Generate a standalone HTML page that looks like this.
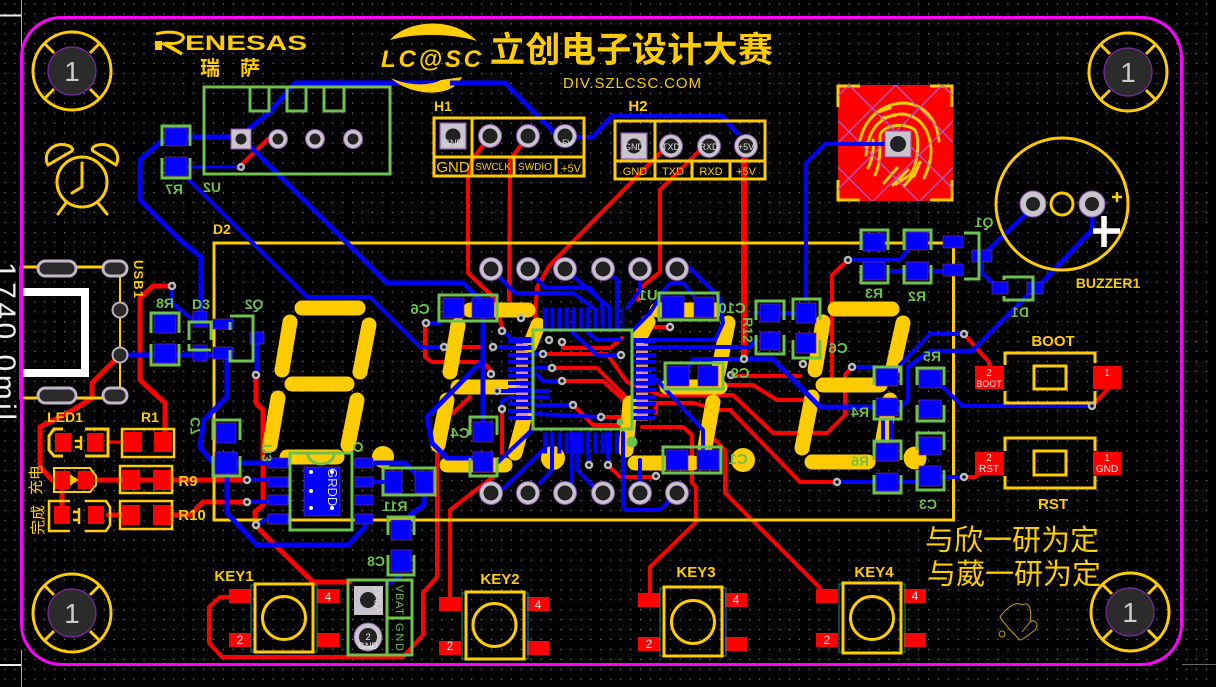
<!DOCTYPE html>
<html><head><meta charset="utf-8"><style>
html,body{margin:0;padding:0;background:#000;width:1216px;height:687px;overflow:hidden}
svg{display:block}
text{font-family:"Liberation Sans","Noto Sans CJK SC",sans-serif}
.r{fill:none;stroke:#f00;stroke-width:4;stroke-linejoin:round;stroke-linecap:round}
.b{fill:none;stroke:#00f;stroke-width:4;stroke-linejoin:round;stroke-linecap:round}
.s{fill:none;stroke:#fc0;stroke-width:15;stroke-linecap:round}
.y{fill:none;stroke:#fc0;stroke-width:3}
.g{fill:none;stroke:#6cc24a;stroke-width:3}
.bp{fill:#00f;stroke:#7a2a9a;stroke-width:.7}
.rp{fill:#f00}
.yt{fill:#fc0;font-weight:bold;font-size:15px;text-anchor:middle}
.gt{fill:#6cc24a;font-weight:bold;font-size:14px;text-anchor:middle}
.wt{fill:#eee;font-size:10px;text-anchor:middle}
.v{fill:#111;stroke:#bbb;stroke-width:2.5}
.t{stroke:#0e8c8c;stroke-width:1;fill:none}
</style></head><body>
<svg width="1216" height="687" viewBox="0 0 1216 687" xmlns="http://www.w3.org/2000/svg">
<defs>
<pattern id="dots" x="0" y="0" width="9.93" height="9.93" patternUnits="userSpaceOnUse"><circle cx="5" cy="4" r=".65" fill="#8a8a8a"/></pattern>
<pattern id="hatch" x="838" y="85" width="33" height="33" patternUnits="userSpaceOnUse" patternTransform="rotate(45 895 143)"><path d="M0 16.5H33M16.5 0V33" stroke="#b25fd0" stroke-width="1.2" fill="none"/></pattern>
<g id="hole"><circle r="39" fill="none" stroke="#fc0" stroke-width="3"/><path d="M-28-28L-18-18M28-28L18-18M-28 28L-18 18M28 28L18 18" stroke="#fc0" stroke-width="3"/><circle r="24" fill="#2b2b2b" stroke="#7d2aa8" stroke-width="1.2"/></g>
<g id="pin"><circle r="11.5" fill="#c9c4cc" stroke="#8e55b5" stroke-width="1"/><circle r="7.5" fill="#222"/></g>
<g id="pinS"><circle r="9.5" fill="#c9c4cc" stroke="#8e55b5" stroke-width="1"/><circle r="5.5" fill="#222"/></g>
<g id="sq"><rect x="-13" y="-13" width="26" height="26" fill="#c9c4cc" stroke="#8e55b5" stroke-width="1.2"/><circle r="7.5" fill="#222"/></g>
</defs>
<rect width="1216" height="687" fill="#000"/>
<rect width="1216" height="687" fill="url(#dots)"/>
<!-- ruler -->
<path d="M21.5 0V50M21.5 650V687" stroke="#aaa" stroke-width="1"/>
<path d="M0 15.5H21M0 665H21" stroke="#eee" stroke-width="2"/>
<path d="M1182 664.5H1216" stroke="#666" stroke-width="1"/>
<text x="0" y="0" transform="translate(-5,262) rotate(90)" fill="#eee" font-size="30" textLength="158" lengthAdjust="spacing" style="font-family:'Liberation Sans',sans-serif">1740.0mil</text>

<!-- RED -->
<path class="r" d="M490 136L472 160L468 176V273L493 297L503 330"/>
<path class="r" d="M528 136L510 160L509 300"/>
<path class="r" d="M663 150L550 265L537 287L535 317"/>
<path class="r" d="M700 150L660 190V272L638 290V300"/>
<path class="r" style="stroke-width:6" d="M744 146V359"/>
<path class="r" d="M848 260L832 275V377"/>
<path class="r" d="M241 139L250 148M268 139L238 168"/>
<path class="r" style="stroke-width:5" d="M172 286H153L140 298V380L165 403V437"/>
<path class="r" style="stroke-width:5" d="M120 355L92 383V398L73 410L40 427V467L52 480H245"/>
<path class="r" style="stroke-width:3" d="M110 442H125"/>
<path class="r" style="stroke-width:5" d="M62 480V515M108 515H125M170 515H190L203 502H247"/>
<path class="r" style="stroke-width:5" d="M256 375V403L263 410V505L255 512V525L277 547L313 582H350"/>
<path class="r" d="M437 453V577L423 593V635L403 657H222L209 643V607L220 597H232"/>
<path class="r" d="M493 477L450 510V597"/>
<path class="r" d="M425 327V357L432 362H483L493 373"/>
<path class="r" d="M444 347H480"/>
<path class="r" d="M502 409V453"/>
<path class="r" d="M470 397L453 413"/>
<path class="r" d="M543 354H607L627 382L660 395H733L773 433H827L845 415V375L852 367"/>
<path class="r" d="M552 368H597L632 403H693L720 410H730L800 482H837"/>
<path class="r" d="M660 385H753L777 400H803"/>
<path class="r" d="M562 381H603L627 403"/>
<path class="r" d="M563 343V348H610L622 338"/>
<path class="r" d="M573 405L593 425H630M601 417H630"/>
<path class="r" d="M642 427H683L692 435V483L696 487V522L650 567V593"/>
<path class="r" d="M715 440L725 450V493L820 588"/>
<path class="r" d="M608 465L620 477H656"/>
<path class="r" d="M670 327H653"/>
<path class="r" d="M733 376H800"/>
<path class="r" d="M964 334L978 350L989 362V367"/>
<path class="r" d="M1092 406L1107 390"/>
<path class="r" d="M964 477H975L985 470"/>
<path class="r" d="M656 405V413"/>

<!-- YELLOW SEGMENTS -->
<g class="s">
<path d="M302 308H358M290 322L282 370M369 325L360 372M292 384H347M278 398L270 445M357 400L348 445M287 457H337"/>
<path d="M470 310H528M458 325L450 372M538 325L530 345M458 387H513M447 400L438 445M525 415L515 453M447 465H505"/>
<path d="M657 310H715M648 322L640 337M728 323L718 373M667 387H720M630 403L626 450M713 402L705 447M635 463H693"/>
<path d="M835 309H892M823 322L815 370M903 323L893 368M823 385H880M812 397L802 448M890 400L882 445M812 462H868"/>
</g>
<circle cx="553" cy="458" r="12" fill="#fc0"/><circle cx="743" cy="460" r="12" fill="#fc0"/><circle cx="915" cy="458" r="11.5" fill="#fc0"/><circle cx="383" cy="457" r="11" fill="#fc0"/>
<rect x="214" y="243" width="739.5" height="277" class="y"/>

<!-- Fingerprint -->
<rect x="838" y="85" width="115" height="116" fill="#f00"/>
<path d="M838 107V86H860M930 86H952V107M838 180V200H860M930 200H952V180" fill="none" stroke="#fc0" stroke-width="3"/>
<g fill="none" stroke="#fc0" stroke-width="3" stroke-linecap="round">
<path d="M860 140C866 115 885 103 905 103C925 105 937 120 939 141"/>
<path d="M866 155C868 125 885 114 903 114C920 116 930 130 931 150C931 160 928 170 924 178"/>
<path d="M878 112L890 108M882 118L896 115"/>
<path d="M875 175C880 165 880 150 880 135C883 125 905 122 915 130C920 140 918 165 910 175L896 184"/>
<path d="M868 168C872 160 874 150 873 140"/>
<path d="M884 183L897 168M893 185L908 170M904 186L916 172M914 176L920 162"/>
</g>
<rect x="838" y="85" width="115" height="116" fill="url(#hatch)"/>

<!-- BLUE -->
<path class="b" style="stroke-width:5" d="M241 139L250 128L270 112L295 83H505L555 133L565 136"/>
<path class="b" style="stroke-width:4.5" d="M578 137H593L612 116H722L737 133"/>
<path class="b" style="stroke-width:5" d="M176 137H241"/>
<path class="b" style="stroke-width:3" d="M176 167H241"/>
<path class="b" style="stroke-width:5" d="M163 140L140 160V200L180 240L201 257V318"/>
<path class="b" d="M187 178L307 297H370L420 347H443"/>
<path class="b" style="stroke-width:5" d="M252 148L387 283H463L483 303"/>
<path class="b" d="M172 286V303L193 320H201"/>
<path class="b" style="stroke-width:5" d="M120 355H220"/>
<path class="b" style="stroke-width:5" d="M227 353V397L204 420L200 447L213 463H268"/>
<path class="b" style="stroke-width:5" d="M257 338V375"/>
<path class="b" style="stroke-width:5" d="M227 467V513L257 545H348L365 527V518"/>
<path class="b" style="stroke-width:5" d="M355 463H405L417 475L424 482V505L410 515"/>
<path class="b" d="M363 482H393M247 480H267M247 502H267M256 525L267 519"/>
<path class="b" d="M401 575L387 585"/>
<path class="b" d="M885 144H825L806 163V300"/>
<path class="b" d="M848 260H900L910 247M888 271H904M930 271H945"/>
<path class="b" style="stroke-width:4.5" d="M982 256L1025 215"/>
<path class="b" style="stroke-width:5" d="M1092 217V230L1038 287"/>
<path class="b" d="M982 260V273L997 287"/>
<path class="b" style="stroke-width:4.5" d="M1033 290L972 351H930L908 367V400L900 408"/>
<path class="b" d="M964 334H930L900 365"/>
<path class="b" d="M943 387L962 406H1090"/>
<path class="b" d="M930 477H964M837 482H917M852 367H875"/>
<path class="b" style="stroke-width:5" d="M744 359H773L820 407H877"/>
<path class="b" d="M883 420V445M891 420V445"/>
<path class="b" style="stroke-width:5" d="M483 318V360L427 417L432 443L447 458H473M483 360V420"/>
<path class="b" d="M498 462L532 430M502 331L512 339H530M493 347H530M497 391H548M502 409V401L510 397H548"/>
<path class="b" d="M444 347H420"/>
<path class="b" d="M426 323H440"/>
<path class="b" d="M573 405H535M601 417L535 414M552 368H535M562 381H543L535 373M543 354H532M621 355H597L572 332M587 332L597 340H620"/>
<path class="b" d="M633 380H657L703 430V450M633 347H750L756 340M744 359H693L690 365"/>
<path class="b" d="M491 269L515 293H573L592 307M528 269L545 288H590L602 302V308M565 269L597 297L610 308M603 269L617 280V308M640 269V290L627 308"/>
<path class="b" d="M690 268L720 298L723 323L715 340H633"/>
<path class="b" d="M660 295L670 283H683L693 295M660 297L650 313L633 330"/>
<path class="b" d="M502 490L543 450M540 483L552 470V433M572 433V490M577 433V470L597 490M623 433V507L625 510H660L670 500M640 460V487M587 433L589 465M607 433L608 465"/>
<path class="b" d="M755 313H795"/>

<!-- QFN pins -->
<line x1="543" y1="318" x2="623" y2="318" stroke="#00f" stroke-width="21" stroke-dasharray="4 3.2"/>
<line x1="543" y1="443" x2="623" y2="443" stroke="#00f" stroke-width="21" stroke-dasharray="4 3.2"/>
<line x1="520" y1="339" x2="520" y2="421" stroke="#00f" stroke-width="24" stroke-dasharray="4 3"/>
<line x1="644" y1="339" x2="644" y2="421" stroke="#00f" stroke-width="24" stroke-dasharray="4 3"/>
<line x1="522" y1="343.5" x2="522" y2="421" stroke="#d890a0" stroke-width="12" stroke-dasharray="2.5 4.5"/>
<line x1="642" y1="343.5" x2="642" y2="421" stroke="#d890a0" stroke-width="12" stroke-dasharray="2.5 4.5"/>
<rect x="533" y="330" width="99" height="99" class="g"/>
<circle cx="620" cy="422" r="3.5" fill="#6cc24a"/><circle cx="632" cy="442" r="5.5" fill="#6cc24a"/>

<!-- Blue pads -->
<g class="bp">
<rect x="165" y="128" width="22" height="18"/><rect x="165" y="157" width="22" height="19"/>
<rect x="154" y="313" width="22" height="20"/><rect x="154" y="344" width="22" height="19"/>
<rect x="193" y="311" width="14" height="16"/><rect x="193" y="345" width="14" height="16"/>
<rect x="213" y="319" width="20" height="10"/><rect x="213" y="347" width="20" height="12"/><rect x="250" y="332" width="14" height="12"/>
<rect x="216" y="423" width="20" height="20"/><rect x="215" y="452" width="22" height="22"/>
<rect x="268" y="458" width="20" height="10"/><rect x="268" y="477" width="20" height="10"/><rect x="268" y="495" width="20" height="10"/><rect x="268" y="514" width="20" height="10"/>
<rect x="355" y="458" width="18" height="10"/><rect x="355" y="477" width="18" height="10"/><rect x="355" y="495" width="18" height="10"/><rect x="355" y="514" width="18" height="10"/>
<rect x="304" y="467" width="36" height="49"/>
<rect x="384" y="471" width="18" height="22"/><rect x="415" y="471" width="18" height="22"/>
<rect x="391" y="520" width="20" height="20"/><rect x="391" y="550" width="20" height="22"/>
<rect x="443" y="298" width="21" height="20"/><rect x="472" y="298" width="22" height="20"/>
<rect x="662" y="296" width="22" height="22"/><rect x="694" y="297" width="20" height="20"/>
<rect x="667" y="366" width="22" height="20"/><rect x="698" y="366" width="20" height="20"/>
<rect x="473" y="422" width="20" height="20"/><rect x="473" y="452" width="20" height="20"/>
<rect x="666" y="450" width="22" height="20"/><rect x="697" y="450" width="22" height="20"/>
<rect x="760" y="304" width="20" height="18"/><rect x="760" y="332" width="20" height="18"/>
<rect x="796" y="303" width="20" height="20"/><rect x="796" y="333" width="20" height="20"/>
<rect x="863" y="233" width="22" height="18"/><rect x="863" y="262" width="22" height="18"/>
<rect x="906" y="232" width="22" height="18"/><rect x="906" y="262" width="22" height="18"/>
<rect x="943" y="236" width="20" height="12"/><rect x="943" y="264" width="20" height="12"/><rect x="972" y="250" width="20" height="12"/>
<rect x="992" y="282" width="16" height="12"/><rect x="1027" y="282" width="16" height="12"/>
<rect x="876" y="368" width="22" height="18"/><rect x="876" y="398" width="22" height="18"/>
<rect x="876" y="443" width="22" height="18"/><rect x="876" y="473" width="22" height="18"/>
<rect x="919" y="370" width="22" height="18"/><rect x="919" y="400" width="22" height="18"/>
<rect x="919" y="437" width="22" height="18"/><rect x="919" y="466" width="22" height="20"/>
</g>
<g fill="#fff"><circle cx="311" cy="472" r="2"/><circle cx="332" cy="472" r="2"/><circle cx="311" cy="491" r="2"/><circle cx="311" cy="508" r="2"/><circle cx="332" cy="508" r="2"/></g>
<text x="0" y="0" transform="translate(328,468) rotate(90)" fill="#ddd" font-size="13">GRDD</text>

<!-- Green silk -->
<rect x="204" y="87" width="186" height="87" class="g"/>
<path class="g" d="M250 88V111H269V88M287 88V111H306V88M324 88V111H344V88"/>
<path class="g" d="M162 146V126H190V146M162 158V178H190V158"/>
<path class="g" d="M151 333V313H179V333M151 344V365H179V344"/>
<path class="g" d="M189 340V322H211V340M189 344V350H211"/>
<path class="g" d="M230 316H253V361H230V350M230 322V330"/>
<path class="g" d="M213 440V420H240V440M213 456V476H240V456"/>
<rect x="290" y="453" width="62" height="77" class="g"/>
<path class="g" d="M308 454A13 10 0 0 0 334 454"/>
<path class="g" d="M383 480V468H435V495H383V484"/>
<path class="g" d="M388 535V517H414V535M388 555V575H414V555"/>
<rect x="348" y="580" width="64" height="75" class="g"/>
<path class="g" d="M387 580V655M387 618H412"/>
<path class="g" d="M439 295H497V321H439Z"/>
<path class="g" d="M659 293H718V320H659Z"/>
<path class="g" d="M665 363H723V389H665Z"/>
<path class="g" d="M470 435V417H497V435M470 458V476H497V458"/>
<path class="g" d="M663 447H721V473H663Z"/>
<path class="g" d="M756 320V301H784V320M756 335V354H784V335"/>
<path class="g" d="M793 320V299H820V320M793 340V358H820V340"/>
<path class="g" d="M861 250V230H888V250M861 265V283H888V265"/>
<path class="g" d="M904 250V230H931V250M904 265V283H931V265"/>
<path class="g" d="M964 233H979V279H964"/>
<path class="g" d="M1004 280V277H1033V300H1004V296"/>
<path class="g" d="M874 385V367H901V385M874 400V419H901V400"/>
<path class="g" d="M874 460V441H901V460M874 475V493H901V475"/>
<path class="g" d="M917 385V368H944V385M917 405V421H944V405"/>
<path class="g" d="M917 450V433H944V450M917 470V490H944V470"/>
<circle cx="358" cy="447" r="4" fill="none" stroke="#6cc24a" stroke-width="2"/>

<!-- Silk outlines (yellow) -->
<rect x="434" y="118" width="150" height="58" class="y"/>
<path class="y" d="M434 157H585M472 118V176M514 157V176M556 157V176"/>
<rect x="615" y="121" width="150" height="58" class="y"/>
<path class="y" d="M615 161H765M655 121V179M692 161V179M730 161V179"/>
<text class="yt" x="443" y="111" style="font-size:14px">H1</text>
<text class="yt" x="638" y="111" style="font-size:15px">H2</text>
<text x="453" y="172" fill="#fc0" font-size="15" text-anchor="middle">GND</text>
<text x="493" y="170" fill="#fc0" font-size="10" text-anchor="middle">SWCLK</text>
<text x="535" y="170" fill="#fc0" font-size="10" text-anchor="middle">SWDIO</text>
<text x="571" y="172" fill="#fc0" font-size="11" text-anchor="middle">+5V</text>
<text x="635" y="175" fill="#fc0" font-size="11" text-anchor="middle">GND</text>
<text x="673" y="175" fill="#fc0" font-size="11" text-anchor="middle">TXD</text>
<text x="711" y="175" fill="#fc0" font-size="11" text-anchor="middle">RXD</text>
<text x="746" y="175" fill="#fc0" font-size="11" text-anchor="middle">+5V</text>

<!-- USB -->
<path d="M120 267H21V398H120" class="y"/>
<path d="M120 270V390" stroke="#fc0" stroke-width="2" fill="none"/>
<path d="M23 292H85V373H23" fill="none" stroke="#fff" stroke-width="8"/>
<rect x="38" y="261" width="38" height="15" rx="7.5" fill="#2a2a2a" stroke="#c3b6c8" stroke-width="3"/>
<rect x="103" y="261" width="24" height="15" rx="7.5" fill="#2a2a2a" stroke="#c3b6c8" stroke-width="3"/>
<rect x="38" y="388" width="38" height="15" rx="7.5" fill="#2a2a2a" stroke="#c3b6c8" stroke-width="3"/>
<rect x="103" y="388" width="24" height="15" rx="7.5" fill="#2a2a2a" stroke="#c3b6c8" stroke-width="3"/>
<circle cx="120" cy="310" r="7.5" fill="#2a2a2a" stroke="#b8b0bc" stroke-width="2"/>
<circle cx="120" cy="355" r="7.5" fill="#2a2a2a" stroke="#b8b0bc" stroke-width="2"/>
<text transform="translate(134,260) rotate(90)" fill="#fc0" font-size="13" font-weight="bold" textLength="38">USB1</text>

<!-- LEDs & resistors -->
<rect class="rp" x="55" y="433" width="16" height="19"/><rect class="rp" x="87" y="433" width="16" height="19"/>
<path class="y" d="M63 429H54L49 436V450L54 456H63M85 429H108V456H85"/>
<path d="M81 436V450M75 441H81M75 447H81" stroke="#fc0" stroke-width="2.5" fill="none"/>
<rect class="rp" x="124" y="432" width="18" height="20"/><rect class="rp" x="154" y="432" width="18" height="20"/>
<path class="y" d="M122 429H174V457H122Z" style="stroke-width:2.5"/>
<rect class="rp" x="54" y="471" width="16" height="18"/><rect class="rp" x="78" y="471" width="16" height="18"/>
<path class="y" d="M54 468H90L96 476V485L90 492H54Z" style="stroke-width:2"/>
<path d="M70 474V486L78 480Z" fill="#fc0"/>
<rect class="rp" x="54" y="506" width="16" height="18"/><rect class="rp" x="88" y="506" width="16" height="18"/>
<path class="y" d="M70 501H49V531H70M85 501H106L110 507V525L106 531H85" style="stroke-width:2.5"/>
<path d="M79 508V524M73 512H79M73 520H79" stroke="#fc0" stroke-width="2.5" fill="none"/>
<rect class="rp" x="122" y="470" width="18" height="20"/><rect class="rp" x="153" y="470" width="18" height="20"/>
<rect class="y" x="120" y="466" width="52" height="27" style="stroke-width:2.5"/>
<rect class="rp" x="122" y="505" width="18" height="20"/><rect class="rp" x="153" y="505" width="18" height="20"/>
<rect class="y" x="120" y="501" width="52" height="28" style="stroke-width:2.5"/>
<text class="yt" x="65" y="422" style="font-size:14px">LED1</text>
<text class="yt" x="150" y="422" style="font-size:14px">R1</text>
<text class="yt" x="188" y="486" style="font-size:15px">R9</text>
<text class="yt" x="192" y="520" style="font-size:15px">R10</text>
<text transform="translate(41,495) rotate(-90)" fill="#fc0" font-size="15">充电</text>
<text transform="translate(43,535) rotate(-90)" fill="#fc0" font-size="15">完成</text>

<!-- Keys -->
<g class="rp">
<rect x="229" y="589" width="22" height="14"/><rect x="229" y="633" width="22" height="14"/><rect x="317" y="589" width="22" height="14"/><rect x="317" y="633" width="22" height="14"/>
<rect x="439" y="597" width="22" height="14"/><rect x="439" y="641" width="22" height="14"/><rect x="527" y="597" width="22" height="14"/><rect x="527" y="641" width="22" height="14"/>
<rect x="638" y="593" width="22" height="14"/><rect x="638" y="637" width="22" height="14"/><rect x="725" y="593" width="22" height="14"/><rect x="725" y="637" width="22" height="14"/>
<rect x="816" y="589" width="22" height="14"/><rect x="816" y="633" width="22" height="14"/><rect x="904" y="589" width="22" height="14"/><rect x="904" y="633" width="22" height="14"/>
</g>
<g class="t"><rect x="251" y="585" width="66" height="67"/><rect x="462" y="593" width="66" height="66"/><rect x="660" y="588" width="66" height="68"/><rect x="839" y="584" width="66" height="68"/></g>
<g class="y">
<rect x="255" y="584" width="58" height="68"/><circle cx="284" cy="618" r="21.5"/>
<rect x="466" y="592" width="58" height="67"/><circle cx="494.5" cy="625" r="21.5"/>
<rect x="664" y="587" width="58" height="69"/><circle cx="693" cy="622" r="21.5"/>
<rect x="843" y="583" width="58" height="70"/><circle cx="872" cy="618" r="21.5"/>
</g>
<text class="yt" x="234" y="581">KEY1</text><text class="yt" x="500" y="584">KEY2</text><text class="yt" x="696" y="577">KEY3</text><text class="yt" x="874" y="577">KEY4</text>
<g class="wt" style="font-size:12px">
<text x="328" y="601">4</text><text x="240" y="644">2</text><text x="538" y="609">4</text><text x="450" y="650">2</text><text x="736" y="604">4</text><text x="649" y="648">2</text><text x="915" y="600">4</text><text x="827" y="644">2</text>
</g>

<!-- Battery connector -->
<rect x="354" y="586" width="29" height="29" fill="#c9c4cc"/><circle cx="368" cy="600" r="8" fill="#222"/>
<use href="#pin" x="368" y="637"/><circle cx="368" cy="637" r="14" fill="#c9c4cc" stroke="#8e55b5"/><circle cx="368" cy="637" r="9" fill="#222"/>
<text transform="translate(381,612) rotate(-90)" fill="#ddd" font-size="9" textLength="26">VBAT</text>
<text x="368" y="649" fill="#eee" font-size="9" text-anchor="middle">GND</text>
<text x="368" y="640" fill="#eee" font-size="9" text-anchor="middle">2</text>
<text transform="translate(396,585) rotate(90)" fill="#6cc24a" font-size="11" textLength="30">VBAT</text>
<text transform="translate(396,623) rotate(90)" fill="#6cc24a" font-size="11" textLength="28">GND</text>

<!-- BOOT RST -->
<rect class="rp" x="975" y="366" width="29" height="23"/><rect class="rp" x="1093" y="366" width="28" height="23"/>
<rect class="rp" x="975" y="452" width="29" height="23"/><rect class="rp" x="1093" y="452" width="28" height="23"/>
<path class="y" d="M1005 365V353H1095V363M1095 391V403H1005V391"/>
<rect class="y" x="1034" y="366" width="32" height="23"/>
<path class="y" d="M1005 451V438H1095V451M1095 476V488H1005V476"/>
<rect class="y" x="1034" y="451" width="32" height="24"/>
<text class="yt" x="1053" y="346" style="font-size:15px">BOOT</text>
<text class="yt" x="1053" y="509" style="font-size:15px">RST</text>
<g class="wt"><text x="989" y="376">2</text><text x="989" y="387" style="font-size:9px">BOOT</text><text x="1107" y="376">1</text>
<text x="989" y="461">2</text><text x="989" y="472" style="font-size:10px">RST</text><text x="1107" y="461">1</text><text x="1107" y="472" style="font-size:10px">GND</text></g>

<!-- Through-hole pads -->
<rect x="231" y="129" width="20" height="20" fill="#c9c4cc" stroke="#8e55b5"/><circle cx="241" cy="139" r="5.5" fill="#222"/>
<use href="#pinS" x="278" y="139"/><use href="#pinS" x="315" y="139"/><use href="#pinS" x="353" y="139"/>
<use href="#sq" x="453" y="136"/><use href="#pin" x="490" y="136"/><use href="#pin" x="528" y="136"/><use href="#pin" x="565" y="136"/>
<use href="#sq" x="634" y="146"/><use href="#pin" x="671" y="146"/><use href="#pin" x="709" y="146"/><use href="#pin" x="746" y="146"/>
<g class="wt" style="font-size:9px;fill:#ddd">
<text x="453" y="146">GND</text><text x="565" y="146">+5V</text>
<text x="634" y="150">GND</text><text x="671" y="150">TXD</text><text x="709" y="150">RXD</text><text x="746" y="150">+5V</text>
</g>
<g>
<use href="#pin" x="491" y="269"/><use href="#pin" x="528" y="269"/><use href="#pin" x="565" y="269"/><use href="#pin" x="603" y="269"/><use href="#pin" x="640" y="269"/><use href="#pin" x="677" y="269"/>
<use href="#pin" x="491" y="493"/><use href="#pin" x="528" y="493"/><use href="#pin" x="565" y="493"/><use href="#pin" x="603" y="493"/><use href="#pin" x="640" y="493"/><use href="#pin" x="677" y="493"/>
</g>
<rect x="885" y="131" width="26" height="26" fill="#c9c4cc" stroke="#8e55b5"/><circle cx="898" cy="144" r="8" fill="#222"/>

<!-- Buzzer -->
<circle cx="1062" cy="204" r="66" class="y"/>
<circle cx="1062" cy="204" r="11" class="y"/>
<circle cx="1033" cy="204" r="13" fill="#c9c4cc" stroke="#8e55b5"/><circle cx="1033" cy="204" r="7" fill="#222"/>
<circle cx="1092" cy="204" r="13" fill="#c9c4cc" stroke="#8e55b5"/><circle cx="1092" cy="204" r="7" fill="#222"/>
<path d="M1112 197H1122M1117 192V202" stroke="#fc0" stroke-width="2.5"/>
<path d="M1104 216V247M1093 231H1120" stroke="#fff" stroke-width="5.5"/>
<text class="yt" x="1108" y="288" style="font-size:14px">BUZZER1</text>

<!-- Vias -->
<g class="v">
<circle cx="241" cy="167" r="2.8"/><circle cx="172" cy="286" r="3"/><circle cx="256" cy="375" r="3"/>
<circle cx="247" cy="480" r="3"/><circle cx="247" cy="502" r="3"/><circle cx="256" cy="525" r="3"/>
<circle cx="848" cy="260" r="3"/><circle cx="964" cy="334" r="3"/><circle cx="1092" cy="406" r="3"/><circle cx="964" cy="477" r="3"/>
<circle cx="852" cy="367" r="3"/><circle cx="837" cy="482" r="3"/><circle cx="803" cy="364" r="3"/>
<circle cx="426" cy="323" r="3"/><circle cx="444" cy="347" r="3"/><circle cx="493" cy="347" r="3"/><circle cx="502" cy="331" r="3"/><circle cx="521" cy="318" r="3"/><circle cx="491" cy="374" r="3"/><circle cx="497" cy="391" r="3"/><circle cx="502" cy="409" r="3"/>
<circle cx="549" cy="340" r="3"/><circle cx="562" cy="342" r="3"/><circle cx="543" cy="354" r="3"/><circle cx="552" cy="368" r="3"/><circle cx="562" cy="381" r="3"/><circle cx="573" cy="405" r="3"/><circle cx="601" cy="417" r="3"/><circle cx="621" cy="355" r="3"/>
<circle cx="589" cy="465" r="3"/><circle cx="608" cy="465" r="3"/><circle cx="656" cy="476" r="3"/><circle cx="670" cy="327" r="3"/><circle cx="744" cy="359" r="3"/><circle cx="731" cy="375" r="3"/>
</g>

<!-- Board outline -->
<rect x="21.5" y="17.5" width="1160" height="647" rx="40" fill="none" stroke="#f0f" stroke-width="3"/>
<use href="#hole" x="72" y="71"/><use href="#hole" x="1128" y="72"/><use href="#hole" x="72" y="613"/><use href="#hole" x="1130" y="612"/>
<g fill="#ccc" font-size="28" text-anchor="middle"><text x="72" y="81">1</text><text x="1128" y="82">1</text><text x="72" y="623">1</text><text x="1130" y="622">1</text></g>

<!-- Clock -->
<g fill="none" stroke="#fc0" stroke-width="3" stroke-linecap="round" stroke-linejoin="round">
<circle cx="82" cy="182" r="25"/>
<path d="M82 163V187L72 193"/>
<path d="M48 165C42 153 53 142 66 145C71 146 74 149 72 151Z"/>
<path d="M116 165C122 153 111 142 98 145C93 146 91 149 93 151Z"/>
<path d="M66 203L58 214M98 203L107 214"/>
</g>

<!-- Renesas -->
<path d="M155 41H162V50H155Z" fill="#fc0"/>
<path d="M156 34C170 30 186 33 183 39C180 44 172 44 165 43L182 54L162 43" fill="none" stroke="#fc0" stroke-width="3"/>
<text x="185" y="50" fill="#fc0" font-size="21" font-weight="bold" textLength="122" lengthAdjust="spacingAndGlyphs">ENESAS</text>
<text x="200" y="75" fill="#fc0" font-size="20" font-weight="bold">瑞</text>
<text x="240" y="75" fill="#fc0" font-size="20" font-weight="bold">萨</text>

<!-- LCSC -->
<path d="M390 40C405 22 450 14 477 41C450 33 415 33 390 40Z" fill="#fc0"/>
<path d="M391 78C405 93 450 102 462 77L441 80C427 87 405 85 391 78Z" fill="#fc0"/>
<text x="381" y="67" fill="#fc0" font-size="24" font-style="italic" font-weight="bold" textLength="100">LC@SC</text>
<text x="490" y="62" fill="#fc0" font-size="35" font-weight="bold" textLength="283" lengthAdjust="spacing" style="font-family:'Noto Sans CJK SC',sans-serif">立创电子设计大赛</text>
<text x="563" y="88" fill="#fc0" font-size="15" textLength="138" lengthAdjust="spacing">DIV.SZLCSC.COM</text>
<path d="M450 83H505" stroke="#00f" stroke-width="5"/>

<!-- Green mirrored labels -->
<g class="gt">
<text transform="translate(212,192) scale(-1,1)">U2</text>
<text transform="translate(174,194) scale(-1,1)">R7</text>
<text transform="translate(165,308) scale(-1,1)">R8</text>
<text x="201" y="309">D3</text>
<text transform="translate(254,309) scale(-1,1)">Q2</text>
<text transform="translate(200,426) rotate(-90) scale(-1,1)" style="text-anchor:middle">C7</text>
<text transform="translate(262,453) rotate(90)">U3</text>
<text transform="translate(395,511) scale(-1,1)">R11</text>
<text transform="translate(376,566) scale(-1,1)">C8</text>
<text transform="translate(420,314) scale(-1,1)" style="font-size:15px">C6</text>
<text transform="translate(648,300) scale(-1,1)" style="font-size:15px">U1</text>
<text transform="translate(732,313) scale(-1,1)" style="font-size:15px">C10</text>
<text transform="translate(740,378) scale(-1,1)" style="font-size:15px">C9</text>
<text transform="translate(460,438) scale(-1,1)" style="font-size:15px">C4</text>
<text transform="translate(738,464) scale(-1,1)" style="font-size:15px">C1</text>
<text transform="translate(743,330) rotate(90)">R12</text>
<text transform="translate(838,353) scale(-1,1)" style="font-size:15px">C6</text>
<text transform="translate(874,298) scale(-1,1)">R3</text>
<text transform="translate(917,301) scale(-1,1)">R2</text>
<text transform="translate(984,227) scale(-1,1)">Q1</text>
<text transform="translate(1020,317) scale(-1,1)">D1</text>
<text transform="translate(932,361) scale(-1,1)">R5</text>
<text transform="translate(860,417) scale(-1,1)">R4</text>
<text transform="translate(860,466) scale(-1,1)">R6</text>
<text transform="translate(928,509) scale(-1,1)">C3</text>
</g>
<text class="yt" x="222" y="234" style="font-size:14px">D2</text>

<!-- Chinese -->
<text x="925" y="550" fill="#fc0" font-size="29" style="font-family:'Noto Sans CJK SC',sans-serif">与欣一研为定</text>
<text x="927" y="584" fill="#fc0" font-size="29" style="font-family:'Noto Sans CJK SC',sans-serif">与葳一研为定</text>
<!-- Heart -->
<path d="M1022 605C1015 600 1005 610 1000 617C1005 625 1012 632 1020 640C1022 640 1030 634 1035 630C1040 625 1035 618 1030 622M1022 605C1030 600 1032 612 1030 622L1022 632" fill="none" stroke="#c9a000" stroke-width="1"/>
<circle cx="1002" cy="634" r="3" fill="none" stroke="#c9a000" stroke-width="1"/>
</svg>
</body></html>
